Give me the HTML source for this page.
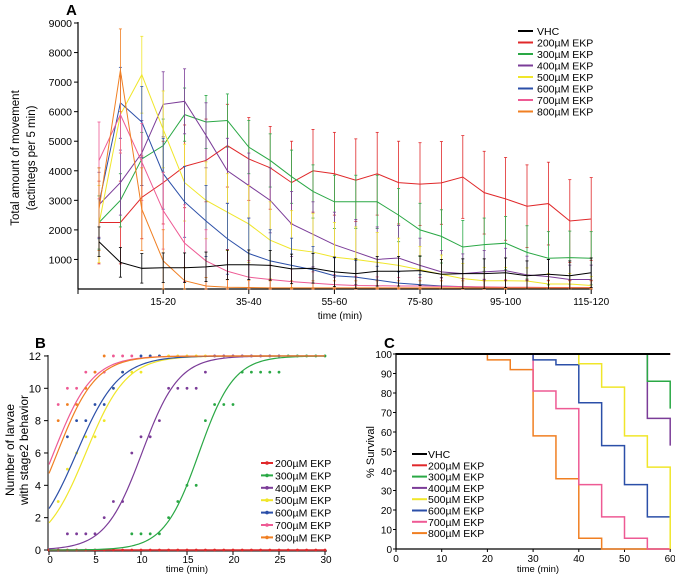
<!DOCTYPE html>
<html><head><meta charset="utf-8"><style>
body{margin:0;background:#fff}
svg{display:block;font-family:"Liberation Sans",sans-serif}
</style></head><body>
<svg id="fig" width="675" height="578" viewBox="0 0 675 578">
<text x="66" y="15" font-size="15" font-weight="bold">A</text>
<text x="35" y="348" font-size="15" font-weight="bold">B</text>
<text x="384" y="348" font-size="15" font-weight="bold">C</text>
<g id="ga"></g>
<g id="gb"></g>
<g id="gc"></g>
</svg>
<script>
const seriesNames=["VHC","200µM EKP","300µM EKP","400µM EKP","500µM EKP","600µM EKP","700µM EKP","800µM EKP"];
const seriesColors=["#000000","#e0282a","#2aa845","#7b3c98","#f0e62a","#2b4fa8","#ee5a94","#f07f22"];
// Panel A
const aCategories=["0-5","5-10","10-15","15-20","20-25","25-30","30-35","35-40","40-45","45-50","50-55","55-60","60-65","65-70","70-75","75-80","80-85","85-90","90-95","95-100","100-105","105-110","110-115","115-120"];
const aTickLabels=["15-20","35-40","55-60","75-80","95-100","115-120"];
const aYTicks=[1000,2000,3000,4000,5000,6000,7000,8000,9000];
const aVHC=[1600,900,700,720,720,750,820,820,800,680,700,580,520,600,600,620,500,520,520,550,450,500,450,550];
const a200=[2250,2250,3100,3600,4150,4350,4850,4400,4100,3600,4000,3900,3680,3900,3600,3550,3590,3790,3260,3050,2800,2890,2300,2370];
const a300=[2250,3000,4400,4850,5900,5650,5700,4800,4350,3800,3300,2950,2950,2950,2500,2000,1780,1420,1500,1550,1240,1040,1060,1040];
const a400=[2850,3600,4600,6250,6350,5200,4000,3500,3000,2200,1850,1500,1250,1000,1050,800,580,520,580,620,480,420,320,320];
const a500=[2200,5900,7250,5400,3600,3000,2600,2200,1650,1350,1250,1080,1000,900,800,650,500,350,280,280,270,170,170,120];
const a600=[2900,6300,5650,3900,2950,2300,1700,1200,950,800,650,450,400,300,200,150,100,80,60,50,50,50,50,50];
const a700=[4350,5900,4300,2650,1550,950,600,400,320,250,200,150,120,110,100,100,90,80,70,60,60,50,50,50];
const a800=[2700,7400,2700,950,280,100,60,50,40,40,40,40,40,40,40,40,40,40,40,40,40,40,40,40];
const aErr=[500,1400,900,1100,1300,1200,1300,1400];
// Panel B
const bYTicks=[0,2,4,6,8,10,12];
const bXTicks=[0,5,10,15,20,25,30];
const bT50=[null,16.3,10.1,4.0,3.0,0.5,0.9];
const bSlope=[null,1.9,2.0,2.2,2.3,2.1,2.1];
const bPts200=[[0,0],[1,0],[2,0],[3,0],[4,0],[5,0],[6,0],[7,0],[8,0],[9,0],[10,0],[11,0],[12,0],[13,0],[14,0],[15,0],[16,0],[17,0],[18,0],[19,0],[20,0],[21,0],[22,0],[23,0],[24,0],[25,0],[26,0],[27,0],[28,0],[29,0],[30,0]];
const bPts300=[[9,1],[10,1],[11,1],[12,1],[13,2],[14,3],[15,4],[16,4],[17,8],[18,9],[19,9],[20,9],[21,11],[22,11],[23,11],[24,11],[25,11],[26,12],[27,12],[28,12],[29,12],[30,12]];
const bPts400=[[2,1],[3,1],[4,1],[5,1],[6,2],[7,3],[8,3],[9,6],[10,7],[11,7],[12,8],[13,10],[14,10],[15,10],[16,10],[17,11],[18,12],[19,12],[20,12],[21,12],[22,12],[23,12],[24,12],[25,12]];
const bPts500=[[1,3],[2,5],[3,6],[4,7],[5,7],[6,8],[7,10],[8,11],[9,11],[10,11],[11,12],[12,12],[13,12],[14,12],[15,12],[16,12],[17,12]];
const bPts600=[[2,7],[3,8],[4,8],[5,9],[6,9],[7,10],[8,11],[10,12],[11,12],[12,12]];
const bPts700=[[1,9],[2,10],[3,10],[4,11],[5,11],[6,11],[7,12],[8,12],[9,12]];
const bPts800=[[1,8],[2,9],[3,9],[4,10],[5,11],[6,12]];
// Panel C
const cXTicks=[0,10,20,30,40,50,60];
const cYTicks=[0,10,20,30,40,50,60,70,80,90,100];
const cTimesVHC=[0];const cSurvVHC=[100];
const cTimes200=[0];const cSurv200=[100];
const cTimes300=[0,55,60];const cSurv300=[100,86,72];
const cTimes400=[0,55,60];const cSurv400=[100,67,53];
const cTimes500=[40,45,50,55,60];const cSurv500=[95,83,58,42,0];
const cTimes600=[30,35,40,45,50,55];const cSurv600=[97,94.5,75,53,33,16.5];
const cTimes700=[30,35,40,45,50,55];const cSurv700=[81,72,33,16.5,5.5,0];
const cTimes800=[20,25,30,35,40,45];const cSurv800=[97,92,58,36,5.5,0];

const NS="http://www.w3.org/2000/svg";
function mk(p,tag,at){const e=document.createElementNS(NS,tag);for(const k in at)e.setAttribute(k,at[k]);p.appendChild(e);return e;}

// ---- Panel A
const ga=document.getElementById('ga');
const ax=i=>99+i*21.4, ay=v=>289-v*(266/9000);
let e=mk(ga,'line',{x1:78,y1:289,x2:78,y2:22,stroke:'#000','stroke-width':1.2});

e=mk(ga,'line',{x1:78,y1:289,x2:592,y2:289,stroke:'#000','stroke-width':1.2});

aYTicks.forEach(v=>{mk(ga,'line',{x1:74,x2:78,y1:ay(v),y2:ay(v),stroke:'#000'});
 e=mk(ga,'text',{x:72,y:ay(v)+4,'font-size':10.5,'text-anchor':'end'});e.textContent=v;
 });
mk(ga,'line',{x1:78,x2:78,y1:289,y2:294,stroke:'#000'});
aTickLabels.forEach(l=>{const i=aCategories.indexOf(l);mk(ga,'line',{x1:ax(i),x2:ax(i),y1:289,y2:294,stroke:'#000'});
 e=mk(ga,'text',{x:ax(i),y:305,'font-size':10,'text-anchor':'middle'});e.textContent=l;
 });
e=mk(ga,'text',{x:340,y:319,'font-size':10,'text-anchor':'middle'});e.textContent='time (min)';

e=mk(ga,'text',{transform:'translate(19,158) rotate(-90)','font-size':11.5,'text-anchor':'middle'});e.textContent='Total amount of movement';

e=mk(ga,'text',{transform:'translate(35,158) rotate(-90)','font-size':11.5,'text-anchor':'middle'});e.textContent='(actintegs per 5 min)';

const aSeries=[aVHC,a200,a300,a400,a500,a600,a700,a800];
const drawOrder=[1,2,3,4,5,6,7,0];
drawOrder.forEach(s=>{const d=aSeries[s];const c=seriesColors[s];
 const g=mk(ga,'g',{});
 d.forEach((v,i)=>{const er=Math.min(aErr[s],v*0.9+200);const x=ax(i);
  mk(g,'line',{x1:x,x2:x,y1:ay(v+er),y2:ay(Math.max(0,v-er)),stroke:c,'stroke-width':0.8});
  mk(g,'line',{x1:x-1.5,x2:x+1.5,y1:ay(v+er),y2:ay(v+er),stroke:c,'stroke-width':0.8});
  mk(g,'line',{x1:x-1.5,x2:x+1.5,y1:ay(Math.max(0,v-er)),y2:ay(Math.max(0,v-er)),stroke:c,'stroke-width':0.8});});
 mk(g,'polyline',{points:d.map((v,i)=>ax(i)+','+ay(v)).join(' '),fill:'none',stroke:c,'stroke-width':1});});
seriesNames.forEach((n,i)=>{const y=31+i*11.5;
 const g=mk(ga,'g',{});
 mk(g,'line',{x1:518,x2:533,y1:y,y2:y,stroke:seriesColors[i],'stroke-width':2});
 const t=mk(g,'text',{x:537,y:y+4,'font-size':10.5});t.textContent=n;});

// ---- Panel B
const gb=document.getElementById('gb');
const bx=t=>49+t*9.2, by=v=>550-v*16.17;
e=mk(gb,'line',{x1:48,y1:551,x2:48,y2:355,stroke:'#555','stroke-width':1.5});

e=mk(gb,'line',{x1:48,y1:551,x2:327,y2:551,stroke:'#555','stroke-width':1.5});

bYTicks.forEach(v=>{mk(gb,'line',{x1:44,x2:48,y1:by(v),y2:by(v),stroke:'#000'});
 e=mk(gb,'text',{x:41,y:by(v)+4,'font-size':11,'text-anchor':'end'});e.textContent=v;
 });
bXTicks.forEach(v=>{mk(gb,'line',{x1:bx(v),x2:bx(v),y1:551,y2:555,stroke:'#000'});
 e=mk(gb,'text',{x:bx(v)+1,y:563,'font-size':10,'text-anchor':'middle'});e.textContent=v;
 });
e=mk(gb,'text',{x:187,y:572,'font-size':9.5,'text-anchor':'middle'});e.textContent='time (min)';

e=mk(gb,'text',{transform:'translate(14,450) rotate(-90)','font-size':12,'text-anchor':'middle'});e.textContent='Number of larvae';

e=mk(gb,'text',{transform:'translate(28,450) rotate(-90)','font-size':12,'text-anchor':'middle'});e.textContent='with stage2 behavior';

const bPts=[bPts200,bPts300,bPts400,bPts500,bPts600,bPts700,bPts800];
bPts.forEach((pts,k)=>{const s=k+1,c=seriesColors[s];
 const g=mk(gb,'g',{});
 if(bT50[k]===null){mk(g,'line',{x1:bx(0),x2:bx(30),y1:by(0),y2:by(0),stroke:c,'stroke-width':1.5});}
 else{const p=[];for(let t=0;t<=30;t+=0.25)p.push(bx(t)+','+by(12/(1+Math.exp(-(t-bT50[k])/bSlope[k]))));
  mk(g,'polyline',{points:p.join(' '),fill:'none',stroke:c,'stroke-width':1.2});}
 pts.forEach(([t,v])=>mk(g,'circle',{cx:bx(t),cy:by(v),r:1.4,fill:c}));});
seriesNames.slice(1).forEach((n,i)=>{const y=463+i*12.4;
 const g=mk(gb,'g',{});
 mk(g,'line',{x1:261,x2:273,y1:y,y2:y,stroke:seriesColors[i+1],'stroke-width':2});
 mk(g,'circle',{cx:267,cy:y,r:1.8,fill:seriesColors[i+1]});
 const t=mk(g,'text',{x:275,y:y+4,'font-size':10.5});t.textContent=n;});

// ---- Panel C
const gc=document.getElementById('gc');
const cx=t=>396+t*4.57, cy=v=>549-v*1.95;
e=mk(gc,'line',{x1:396,y1:549,x2:396,y2:353,stroke:'#000','stroke-width':1.2});

e=mk(gc,'line',{x1:396,y1:549,x2:671,y2:549,stroke:'#000','stroke-width':1.2});

cYTicks.forEach(v=>{mk(gc,'line',{x1:393,x2:396,y1:cy(v),y2:cy(v),stroke:'#000'});
 e=mk(gc,'text',{x:392,y:cy(v)+4,'font-size':10,'text-anchor':'end'});e.textContent=v;
 });
cXTicks.forEach(v=>{mk(gc,'line',{x1:cx(v),x2:cx(v),y1:549,y2:552,stroke:'#000'});
 e=mk(gc,'text',{x:cx(v),y:562,'font-size':10,'text-anchor':'middle'});e.textContent=v;
 });
e=mk(gc,'text',{x:538,y:572,'font-size':9.5,'text-anchor':'middle'});e.textContent='time (min)';

e=mk(gc,'text',{transform:'translate(374,452) rotate(-90)','font-size':11,'text-anchor':'middle'});e.textContent='% Survival';

const cTimes=[cTimesVHC,cTimes200,cTimes300,cTimes400,cTimes500,cTimes600,cTimes700,cTimes800];
const cSurv=[cSurvVHC,cSurv200,cSurv300,cSurv400,cSurv500,cSurv600,cSurv700,cSurv800];
[7,6,5,4,3,2,1,0].forEach(s=>{const T=cTimes[s],S=cSurv[s];
 let prev=100,p=[];
 if(T[0]>0)p.push(cx(T[0])+','+cy(100));
 T.forEach((t,i)=>{p.push(cx(t)+','+cy(prev));p.push(cx(t)+','+cy(S[i]));prev=S[i];});
 if(T[T.length-1]<60)p.push(cx(60)+','+cy(prev));
 const l=mk(gc,'polyline',{points:p.join(' '),fill:'none',stroke:seriesColors[s],'stroke-width':s===0?2:1.5});
 });
seriesNames.forEach((n,i)=>{const y=454+i*11.3;
 const g=mk(gc,'g',{});
 mk(g,'line',{x1:412,x2:427,y1:y,y2:y,stroke:seriesColors[i],'stroke-width':2});
 const t=mk(g,'text',{x:428,y:y+4,'font-size':10.5});t.textContent=n;});
</script>
</body></html>
